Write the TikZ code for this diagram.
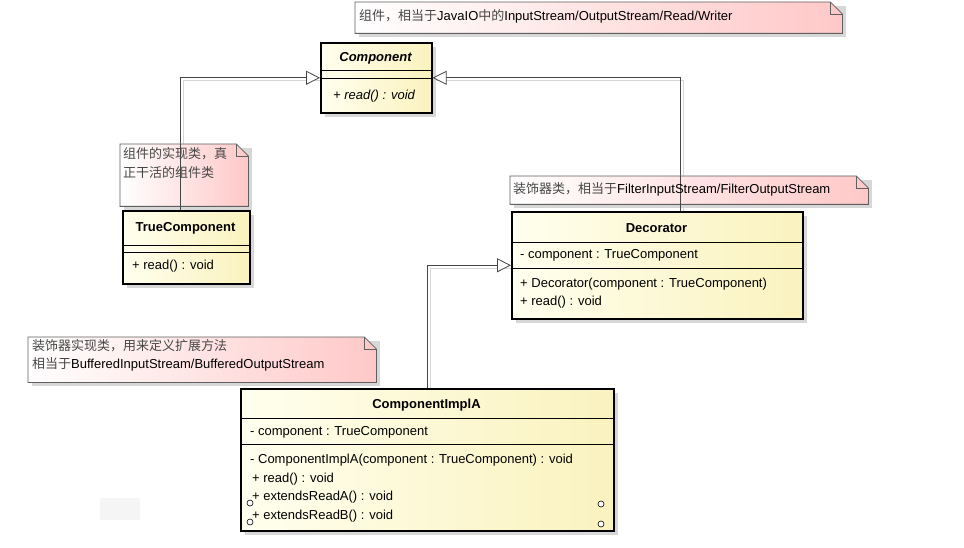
\documentclass[tikz,border=0pt]{standalone}
\usepackage{fontspec}
\setmainfont{Liberation Sans}
\newfontfamily\cjkf{Noto Sans CJK SC}
\newcommand{\zh}[1]{{\cjkf\color{black!72}#1}}
\usetikzlibrary{arrows.meta,shadows,calc}
\definecolor{classL}{RGB}{255,255,238}
\definecolor{classR}{RGB}{250,242,190}
\definecolor{noteR}{RGB}{255,200,200}
\definecolor{noteborder}{RGB}{95,95,95}
\definecolor{shadowc}{RGB}{215,215,215}
\definecolor{linec}{RGB}{70,70,70}
\newcommand{\foldnote}[1]{%
  \fill[shadowc] ([xshift=4pt,yshift=-4pt]#1.north east) rectangle ([xshift=4pt,yshift=-4pt]#1.south west);
  \path[draw=noteborder, line width=0.8pt, left color=white, right color=noteR]
    (#1.north west) -- ([xshift=-12pt]#1.north east) -- ([yshift=-12pt]#1.north east)
    -- (#1.south east) -- (#1.south west) -- cycle;
  \draw[noteborder, line width=0.8pt] ([xshift=-12pt]#1.north east) -- ([xshift=-12pt,yshift=-12pt]#1.north east) -- ([yshift=-12pt]#1.north east);
}
\tikzset{
  classbox/.style={draw=black, line width=1.6pt, inner sep=0pt, anchor=north west,
    left color=classL, right color=classR,
    drop shadow={shadow xshift=4pt, shadow yshift=-4pt, fill=shadowc, opacity=1}},
  notearea/.style={inner sep=0pt, anchor=north west},
  sep/.style={draw=black, line width=0.7pt},
  txt/.style={inner sep=0pt, anchor=west, font=\fontsize{13}{15}\selectfont},
  ttl/.style={inner sep=0pt, anchor=center, font=\fontsize{13}{15}\selectfont\bfseries},
  gen/.style={draw=linec, line width=0.8pt, -{Triangle[open, length=14pt, width=14pt, fill=white]}},
  genshadow/.style={draw=shadowc, line width=0.8pt},
  knob/.style={draw=black, line width=0.6pt, fill=white},
}
\begin{document}
\begin{tikzpicture}[x=1pt,y=-1pt]
\useasboundingbox (0,0) rectangle (964,548);
\fill[white] (0,0) rectangle (964,548);
\fill[gray!8] (100,498) rectangle (140,520);

% notes
\node[notearea, minimum width=487pt, minimum height=31pt] (n1) at (355,2) {};
\foldnote{n1}
\node[txt] (n1t) at (359,16) {\zh{组件，相当于}JavaIO\zh{中的}InputStream/OutputStream/Read/Writer};

% classes
\node[classbox, minimum width=111pt, minimum height=70pt] (comp) at (320,42) {};
\node[classbox, minimum width=127pt, minimum height=73pt] (tc) at (122,210) {};
\node[classbox, minimum width=291pt, minimum height=107pt] (dec) at (511,211) {};
\node[classbox, minimum width=373pt, minimum height=142pt] (impl) at (240,388) {};

% connector shadows
\draw[genshadow] ($(tc.north)+(-2.5,0)$) |- ([yshift=-3pt]comp.west);
\draw[genshadow] ($(dec.north)+(26.5,0)$) |- ([yshift=-3pt]comp.east);
\draw[genshadow] ($(impl.north)+(3,0)$) |- ([yshift=-3pt]dec.west);

% generalizations
\draw[gen] ($(tc.north)+(-5.5,0)$) |- (comp.west);
\draw[gen] ($(dec.north)+(23.5,0)$) |- (comp.east);
\draw[gen] (impl.north) |- (dec.west);

% Component
\node[ttl, font=\fontsize{13}{15}\selectfont\bfseries\itshape] (compn) at (375.5,58) {Component};
\draw[sep] (320,70) -- (431,70);
\draw[sep] (320,78) -- (431,78);
\node[txt, font=\fontsize{13}{15}\selectfont\itshape] (compm) at (333,96) {+ read() : void};

% TrueComponent note (drawn over the connector)
\node[notearea, minimum width=128pt, minimum height=62pt] (n2) at (120,144) {};
\foldnote{n2}
\draw[linec, line width=0.8pt] ($(tc.north)+(-5.5,0)$) -- ($(tc.north)+(-5.5,-66)$);
\node[txt, anchor=north west, align=left, font=\fontsize{13}{19}\selectfont\cjkf, text=black!72] (n2t) at (123,147) {组件的实现类，真\\正干活的组件类};

% TrueComponent
\node[ttl] (tcn) at (185.5,228) {TrueComponent};
\draw[sep] (122,245) -- (249,245);
\draw[sep] (122,252) -- (249,252);
\node[txt] (tcm) at (132,266) {+ read() : void};

% Decorator note
\node[notearea, minimum width=358pt, minimum height=28pt] (n3) at (510,176) {};
\foldnote{n3}
\draw[linec, line width=0.8pt] ($(dec.north)+(23.5,0)$) -- ($(dec.north)+(23.5,-35)$);
\node[txt] (n3t) at (513,189) {\zh{装饰器类，相当于}FilterInputStream/FilterOutputStream};

% Decorator
\node[ttl] (decn) at (656.5,228) {Decorator};
\draw[sep] (511,242) -- (802,242);
\node[txt] (deca) at (520,255) {- component : TrueComponent};
\draw[sep] (511,268) -- (802,268);
\node[txt] (decm1) at (520,284) {+ Decorator(component : TrueComponent)};
\node[txt] (decm2) at (520,302) {+ read() : void};

% Impl note
\node[notearea, minimum width=348pt, minimum height=45pt] (n4) at (28,337) {};
\foldnote{n4}
\node[txt, anchor=north west, align=left, font=\fontsize{13}{18}\selectfont] (n4t) at (32,339) {\zh{装饰器实现类，用来定义扩展方法}\\\zh{相当于}BufferedInputStream/BufferedOutputStream};

% ComponentImplA
\node[ttl] (impln) at (426.5,405) {ComponentImplA};
\draw[sep] (240,418) -- (613,418);
\node[txt] (impla) at (250,432) {- component : TrueComponent};
\draw[sep] (240,444) -- (613,444);
\node[txt] (implm1) at (250,460) {- ComponentImplA(component : TrueComponent) : void};
\node[txt] (implm2) at (252,479) {+ read() : void};
\node[txt] (implm3) at (252,497) {+ extendsReadA() : void};
\node[txt] (implm4) at (252,516) {+ extendsReadB() : void};
\draw[knob] (250,503) circle (3);
\draw[knob] (250,522) circle (3);
\draw[knob] (601,504) circle (3);
\draw[knob] (601,524) circle (3);
\end{tikzpicture}
\end{document}
